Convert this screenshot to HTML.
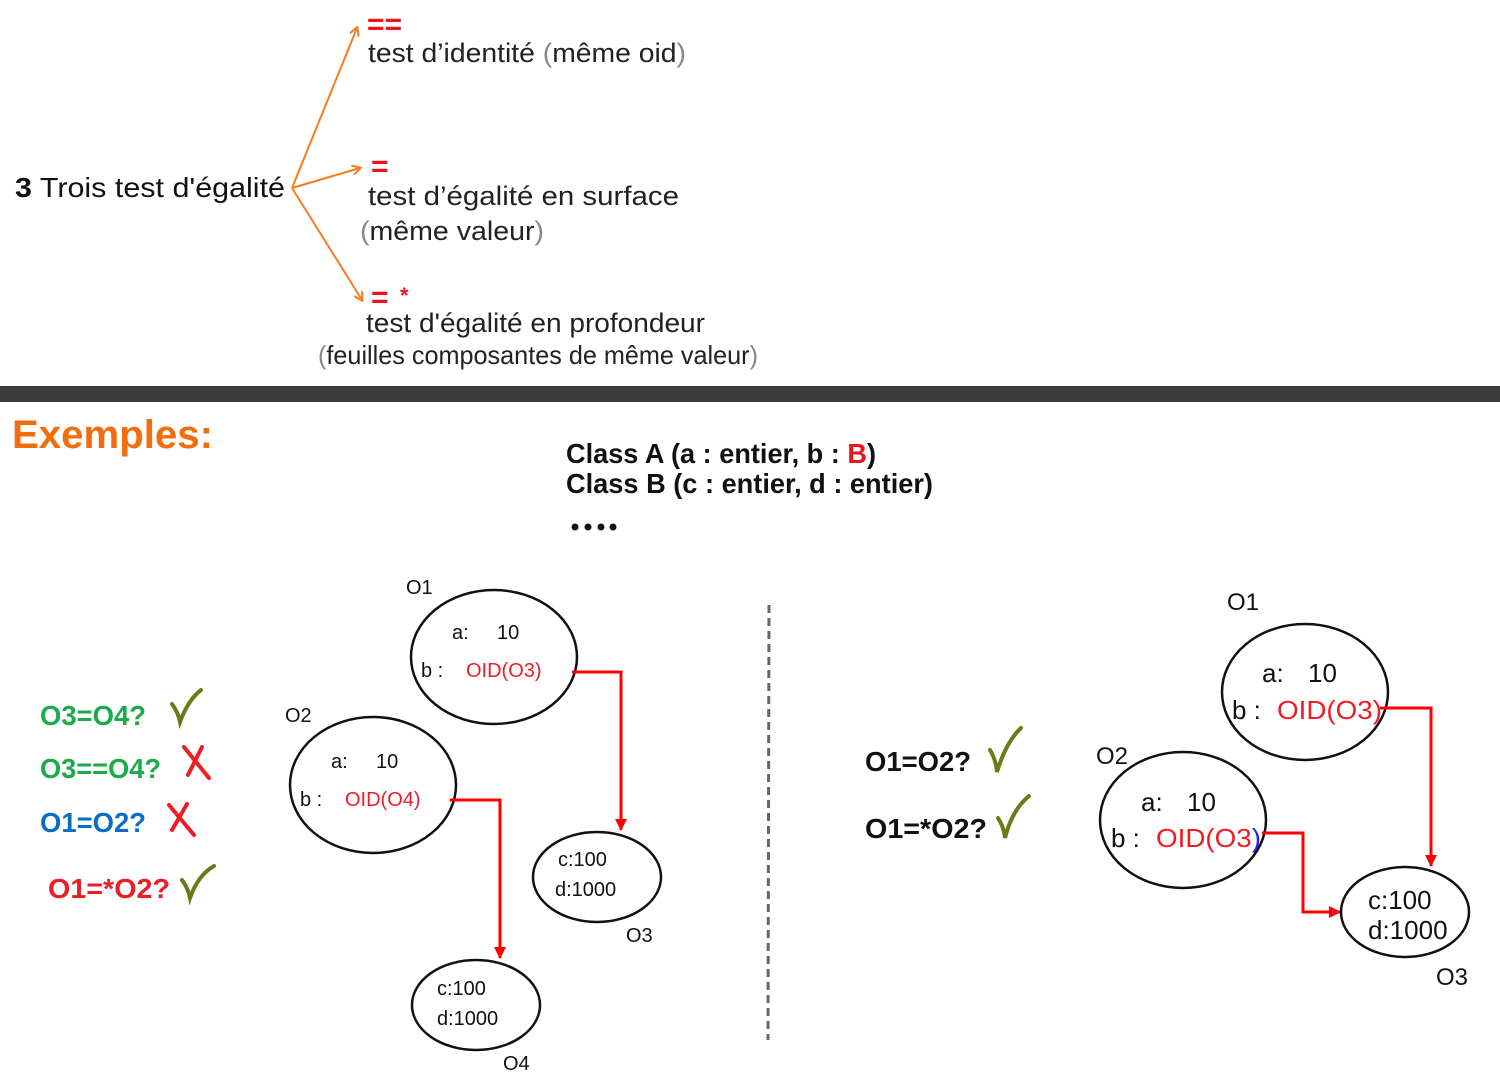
<!DOCTYPE html>
<html><head><meta charset="utf-8"><style>
html,body{margin:0;padding:0;background:#fff;}
svg{display:block;}
text{font-family:"Liberation Sans",sans-serif;}
.b{font-weight:bold;}
</style></head><body>
<svg width="1500" height="1090" viewBox="0 0 1500 1090" xmlns="http://www.w3.org/2000/svg">
<defs>
<marker id="ao" markerWidth="10" markerHeight="10" refX="8" refY="5" orient="auto" markerUnits="userSpaceOnUse"><path d="M0,0 L9,5 L0,10" fill="none" stroke="#f97b21" stroke-width="2"/></marker>
<marker id="ar" markerWidth="14" markerHeight="14" refX="11" refY="6" orient="auto" markerUnits="userSpaceOnUse"><path d="M0,0 L12,6 L0,12 Z" fill="#ff0000"/></marker>
</defs>

<g>
<text x="15" y="197" font-size="28" textLength="270" lengthAdjust="spacingAndGlyphs" fill="#111"><tspan font-weight="bold">3</tspan> Trois test d'égalité</text>
<line x1="292" y1="188" x2="357" y2="28" stroke="#f97b21" stroke-width="2" marker-end="url(#ao)"/>
<line x1="292" y1="188" x2="360" y2="168" stroke="#f97b21" stroke-width="2" marker-end="url(#ao)"/>
<line x1="292" y1="188" x2="362" y2="300" stroke="#f97b21" stroke-width="2" marker-end="url(#ao)"/>
<text x="367" y="34" font-size="30" font-weight="bold" fill="#e8161b">==</text>
<text x="368" y="62" font-size="27" textLength="318" lengthAdjust="spacingAndGlyphs" fill="#222">test d’identité <tspan fill="#888">(</tspan>même oid<tspan fill="#888">)</tspan></text>
<text x="371" y="176" font-size="30" font-weight="bold" fill="#e8161b">=</text>
<text x="368" y="205" font-size="27" textLength="311" lengthAdjust="spacingAndGlyphs" fill="#222">test d’égalité en surface</text>
<text x="360" y="240" font-size="27" textLength="184" lengthAdjust="spacingAndGlyphs" fill="#222"><tspan fill="#888">(</tspan>même valeur<tspan fill="#888">)</tspan></text>
<text x="371" y="307" font-size="30" font-weight="bold" fill="#e8161b">=</text>
<text x="400" y="303" font-size="22" font-weight="bold" fill="#e8161b">*</text>
<text x="366" y="332" font-size="27" textLength="339" lengthAdjust="spacingAndGlyphs" fill="#222">test d'égalité en profondeur</text>
<text x="318" y="364" font-size="26" textLength="440" lengthAdjust="spacingAndGlyphs" fill="#222"><tspan fill="#888">(</tspan>feuilles composantes de même valeur<tspan fill="#888">)</tspan></text>
</g>

<rect x="0" y="386" width="1500" height="16" fill="#3c3c3c"/>

<text x="12" y="448" font-size="40" class="b" fill="#f26d0e" textLength="201" lengthAdjust="spacingAndGlyphs">Exemples:</text>
<text x="566" y="463" font-size="28" class="b" fill="#111" textLength="310" lengthAdjust="spacingAndGlyphs">Class A (a : entier, b : <tspan fill="#e8161b">B</tspan>)</text>
<text x="566" y="493" font-size="28" class="b" fill="#111" textLength="367" lengthAdjust="spacingAndGlyphs">Class B (c : entier, d : entier)</text>
<g fill="#111">
<circle cx="575" cy="527" r="3.5"/><circle cx="588" cy="527" r="3.5"/><circle cx="601" cy="527" r="3.5"/><circle cx="613" cy="527" r="3.5"/>
</g>

<g>
<text x="40" y="725" font-size="28" class="b" fill="#1aab4a" textLength="106" lengthAdjust="spacingAndGlyphs">O3=O4?</text>
<path d="M172,704 Q178,712 180,722 Q188,700 201,690" fill="none" stroke="#6b7a1a" stroke-width="4" stroke-linecap="round"/>
<text x="40" y="778" font-size="28" class="b" fill="#1aab4a" textLength="121" lengthAdjust="spacingAndGlyphs">O3==O4?</text>
<path d="M184,747 L209,778 M202,747 L188,775" fill="none" stroke="#ee1c24" stroke-width="4" stroke-linecap="round"/>
<text x="40" y="832" font-size="28" class="b" fill="#0a6fc4" textLength="106" lengthAdjust="spacingAndGlyphs">O1=O2?</text>
<path d="M169,805 L194,835 M187,804 L172,830" fill="none" stroke="#ee1c24" stroke-width="4" stroke-linecap="round"/>
<text x="48" y="898" font-size="28" class="b" fill="#ee1c24" textLength="122" lengthAdjust="spacingAndGlyphs">O1=*O2?</text>
<path d="M182,880 Q188,888 190,898 Q198,875 214,866" fill="none" stroke="#6b7a1a" stroke-width="4" stroke-linecap="round"/>
</g>

<g font-size="20" fill="#111">
<text x="406" y="594">O1</text>
<ellipse cx="494" cy="657" rx="83" ry="67" fill="none" stroke="#111" stroke-width="2.5"/>
<text x="452" y="639">a:</text><text x="497" y="639">10</text>
<text x="421" y="677">b :</text><text x="466" y="677" fill="#ee1c24">OID(O3)</text>
<polyline points="572,672 621,672 621,830" fill="none" stroke="#ff0000" stroke-width="3" marker-end="url(#ar)"/>

<text x="285" y="722">O2</text>
<ellipse cx="373" cy="785" rx="83" ry="68" fill="none" stroke="#111" stroke-width="2.5"/>
<text x="331" y="768">a:</text><text x="376" y="768">10</text>
<text x="300" y="806">b :</text><text x="345" y="806" fill="#ee1c24">OID(O4)</text>
<polyline points="450,800 500,800 500,958" fill="none" stroke="#ff0000" stroke-width="3" marker-end="url(#ar)"/>

<ellipse cx="597" cy="877" rx="64" ry="45" fill="none" stroke="#111" stroke-width="2.5"/>
<text x="558" y="866">c:100</text><text x="555" y="896">d:1000</text>
<text x="626" y="942">O3</text>

<ellipse cx="476" cy="1005" rx="64" ry="45" fill="none" stroke="#111" stroke-width="2.5"/>
<text x="437" y="995">c:100</text><text x="437" y="1025">d:1000</text>
<text x="503" y="1070">O4</text>
</g>

<line x1="769" y1="605" x2="768" y2="1040" stroke="#666" stroke-width="3" stroke-dasharray="8,5"/>

<text x="865" y="771" font-size="28" class="b" fill="#111" textLength="106" lengthAdjust="spacingAndGlyphs">O1=O2?</text>
<path d="M990,750 Q996,760 997,772 Q1006,742 1021,728" fill="none" stroke="#6b7a1a" stroke-width="4" stroke-linecap="round"/>
<text x="865" y="838" font-size="28" class="b" fill="#111" textLength="122" lengthAdjust="spacingAndGlyphs">O1=*O2?</text>
<path d="M998,818 Q1004,827 1005,838 Q1012,810 1029,796" fill="none" stroke="#6b7a1a" stroke-width="4" stroke-linecap="round"/>

<g font-size="26" fill="#111">
<text x="1227" y="610" font-size="24">O1</text>
<ellipse cx="1305" cy="692" rx="83" ry="68" fill="none" stroke="#111" stroke-width="2.5"/>
<text x="1262" y="682">a:</text><text x="1308" y="682">10</text>
<text x="1232" y="719">b :</text><text x="1277" y="719" fill="#ee1c24" textLength="105" lengthAdjust="spacingAndGlyphs">OID(O3)</text>
<polyline points="1380,708 1431,708 1431,866" fill="none" stroke="#ff0000" stroke-width="3" marker-end="url(#ar)"/>

<text x="1096" y="764" font-size="24">O2</text>
<ellipse cx="1183" cy="820" rx="83" ry="68" fill="none" stroke="#111" stroke-width="2.5"/>
<text x="1141" y="811">a:</text><text x="1187" y="811">10</text>
<text x="1111" y="847">b :</text><text x="1156" y="847" fill="#ee1c24" textLength="105" lengthAdjust="spacingAndGlyphs">OID(O3<tspan fill="#2222ee">)</tspan></text>
<polyline points="1262,833 1303,833 1303,912 1340,912" fill="none" stroke="#ff0000" stroke-width="3" marker-end="url(#ar)"/>

<ellipse cx="1405" cy="912" rx="64" ry="45" fill="none" stroke="#111" stroke-width="2.5"/>
<text x="1368" y="909">c:100</text><text x="1368" y="939">d:1000</text>
<text x="1436" y="985" font-size="24">O3</text>
</g>
</svg>
</body></html>
